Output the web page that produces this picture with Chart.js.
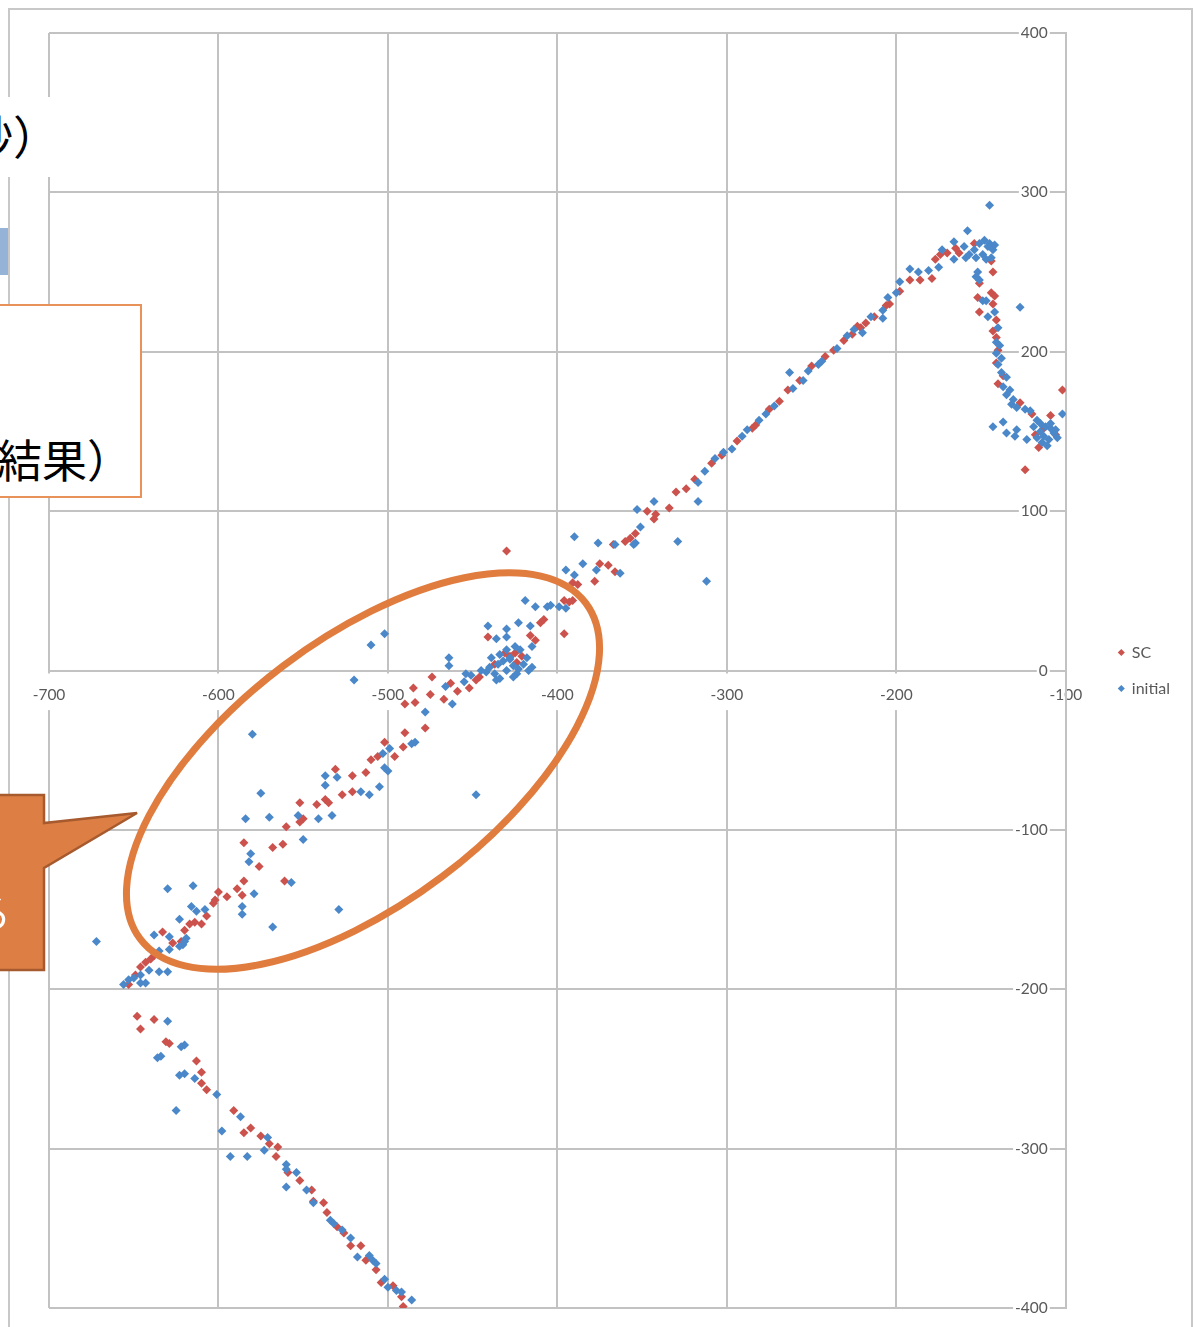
<!DOCTYPE html>
<html>
<head>
<meta charset="utf-8">
<script src="https://cdn.jsdelivr.net/npm/chart.js@4/dist/chart.umd.min.js"></script>
<style>
  html, body { margin: 0; padding: 0; background: #ffffff; }
  #wrap { position: relative; width: 1195px; height: 1327px; overflow: hidden; background: #ffffff; }
  #frame { position: absolute; left: 8px; top: 8px; width: 1185px; height: 1400px; border: 2px solid #c8c8c8; box-sizing: border-box; }
  #chart { position: absolute; left: 0; top: 0; }
  .box { position: absolute; overflow: hidden; background: #ffffff; font-family: "Noto Sans CJK JP", sans-serif; color: #000; line-height: 1; white-space: nowrap; }
  .box span { position: absolute; }
  #shapes { position: absolute; left: 0; top: 0; pointer-events: none; }
</style>
</head>
<body>
<div id="wrap">
  <div id="frame"></div>
  <canvas id="chart" width="1195" height="1327"></canvas>

  <!-- slide text boxes lying over the left edge of the chart -->
  <div class="box" style="left:0; top:97px; width:52px; height:80px;">
    <span style="left:-33px; top:14px; font-size:46px;">秒）</span>
  </div>
  <div style="position:absolute; left:0; top:228px; width:8px; height:47px; background:#95b3d7;"></div>
  <div class="box" style="left:-4px; top:304px; width:146px; height:194px; border:2px solid #e8925a; box-sizing:border-box;">
    <span style="left:-1px; top:130px; font-size:45px;">結果）</span>
  </div>

  <svg id="shapes" width="1195" height="1327" viewBox="0 0 1195 1327">
    <path d="M -6 795 L 44 795 L 44 823 L 137 813 L 44 868 L 44 970 L -6 970 Z"
          fill="#dd7f45" stroke="#a65a2e" stroke-width="2.5" stroke-linejoin="miter"/>
    <text x="-29" y="928" font-family="Noto Sans CJK JP" font-size="40" fill="#ffffff">る</text>
    <ellipse cx="363" cy="771" rx="279" ry="132" transform="rotate(-37 363 771)"
             fill="none" stroke="#e07c3e" stroke-width="7"/>
  </svg>
</div>

<script>
// Tick positions on both axes
const xTicks = [-700, -600, -500, -400, -300, -200, -100];
const yTicks = [400, 300, 200, 100, 0, -100, -200, -300, -400];

// Series "SC": [x, y]
const scPoints = [
  [-648,-217],[-638,-219],[-646,-225],[-631,-233],[-629,-234],[-613,-245],[-610,-252],[-610,-259],
  [-607,-263],[-591,-276],[-585,-290],[-581,-287],[-575,-292],[-570,-297],[-565,-299],[-566,-305],
  [-559,-315],[-552,-320],[-545,-326],[-544,-333],[-538,-334],[-536,-340],[-530,-349],[-526,-353],
  [-522,-361],[-516,-361],[-513,-370],[-507,-376],[-504,-384],[-497,-386],[-492,-393],[-491,-399],
  [-653,-197],[-649,-191],[-646,-186],[-643,-183],[-640,-181],[-638,-179],[-633,-164],[-627,-171],
  [-622,-170],[-620,-163],[-617,-159],[-614,-158],[-610,-159],[-607,-154],[-603,-146],[-602,-144],
  [-600,-139],[-595,-142],[-589,-137],[-586,-141],[-585,-132],[-576,-123],[-561,-132],[-585,-108],
  [-568,-111],[-562,-109],[-560,-98],[-552,-95],[-550,-93],[-552,-83],[-542,-84],[-537,-81],
  [-535,-83],[-527,-78],[-521,-76],[-531,-62],[-521,-66],[-513,-64],[-510,-56],[-506,-54],
  [-496,-54],[-502,-45],[-491,-48],[-490,-39],[-478,-36],[-490,-21],[-484,-20],[-485,-11],
  [-475,-15],[-467,-18],[-474,-4],[-463,-8],[-459,-13],[-452,-11],[-446,-4],[-448,-6],
  [-441,21],[-437,4],[-431,11],[-428,9],[-425,11],[-424,5],[-421,9],[-416,22],[-413,19],
  [-410,30],[-408,32],[-396,23],[-396,44],[-393,43],[-391,44],[-430,75],[-391,55],[-388,54],
  [-378,56],[-375,67],[-370,66],[-366,62],[-367,79],[-360,81],[-357,83],[-354,86],[-343,95],
  [-342,98],[-347,100],[-334,102],
  [-330,112],[-324,114],[-319,120],[-309,130],[-303,135],[-294,144],[-285,152],[-283,154],
  [-275,164],[-269,169],[-264,176],[-257,182],[-250,191],[-242,197],[-237,201],[-231,207],
  [-226,211],[-223,216],
  [-221,215],[-218,218],[-213,222],[-206,229],[-204,230],[-198,238],[-192,245],[-186,245],
  [-179,246],[-177,258],[-174,261],[-170,262],[-165,265],[-163,262],[-154,268],[-144,257],
  [-143,250],[-151,243],[-144,237],[-142,235],[-152,234],[-143,230],[-151,225],[-141,220],
  [-143,213],[-141,209],[-140,201],[-141,193],[-137,185],[-140,180],[-127,168],[-120,161],
  [-109,160],[-102,176],[-116,140],[-124,126],[-113,152],[-106,148],[-118,148]
];

// Series "initial": [x, y]
const initialPoints = [
  [-630,-220],[-634,-242],[-636,-243],[-622,-236],[-620,-235],[-623,-254],[-620,-253],[-614,-256],
  [-625,-276],[-601,-266],[-598,-289],[-587,-280],[-593,-305],[-583,-305],[-571,-293],[-573,-301],
  [-560,-310],[-560,-313],[-554,-315],[-560,-324],[-548,-326],[-544,-334],[-534,-345],[-532,-347],
  [-527,-351],[-522,-356],[-518,-368],[-511,-367],[-509,-370],[-507,-372],[-502,-382],[-500,-387],
  [-495,-389],[-492,-390],[-486,-395],
  [-656,-197],[-653,-194],[-650,-193],[-646,-191],[-646,-196],[-643,-196],[-641,-188],[-635,-189],
  [-630,-189],[-672,-170],
  [-635,-176],[-629,-175],[-623,-173],[-621,-172],[-620,-170],[-619,-168],[-629,-167],[-638,-166],
  [-623,-156],[-616,-148],[-613,-151],[-608,-150],[-630,-137],[-615,-135],[-586,-148],[-586,-153],
  [-568,-161],[-529,-150],[-579,-140],[-557,-133],[-581,-115],[-582,-120],[-550,-106],[-584,-93],
  [-570,-92],[-553,-91],[-541,-93],[-533,-91],[-575,-77],[-516,-76],[-511,-78],[-505,-73],
  [-537,-66],[-530,-67],[-537,-72],[-502,-61],[-500,-63],[-499,-49],[-503,-52],[-484,-45],
  [-486,-46],[-580,-40],[-478,-26],[-462,-21],[-448,-78],[-520,-6],[-510,16],[-502,23],
  [-466,-10],[-455,-7],[-454,-2],[-451,-3],[-464,8],[-464,3],[-445,0],[-442,-1],[-440,2],
  [-437,-2],[-436,-6],[-434,-5],[-435,4],[-432,6],[-430,0],[-428,7],[-426,3],[-426,-4],
  [-424,-2],[-423,1],[-420,4],[-418,8],[-417,0],[-415,2],[-422,13],[-430,13],[-439,8],
  [-434,10],[-428,8],[-425,15],[-415,15],[-436,20],[-430,21],[-441,28],[-430,26],[-423,30],
  [-416,28],[-419,44],[-413,40],[-406,40],[-404,41],[-399,40],[-395,39],[-395,63],[-390,60],
  [-385,67],[-377,63],[-363,61],[-390,84],[-376,80],[-366,79],[-355,79],[-354,80],[-351,90],
  [-353,101],[-343,106],[-317,106],[-329,81],[-312,56],
  [-317,118],[-313,125],[-307,133],[-302,137],[-297,139],[-291,147],[-288,151],[-281,157],
  [-277,161],[-272,166],[-263,187],[-261,177],[-255,182],[-252,188],[-246,192],[-244,194],
  [-235,202],[-229,210],[-225,214],
  [-220,212],[-215,222],[-208,221],[-208,226],[-205,234],[-200,237],[-198,244],[-192,252],
  [-187,250],[-181,251],[-175,253],[-173,264],[-166,269],[-166,258],[-158,276],[-145,292],
  [-160,266],[-157,261],[-154,264],[-151,268],[-148,270],[-146,266],[-143,264],[-149,261],
  [-144,259],[-153,259],[-159,259],[-147,258],[-145,268],[-142,267],[-152,250],[-153,247],
  [-151,245],[-149,232],[-147,232],[-142,225],[-146,222],[-127,228],[-140,215],[-141,206],
  [-139,204],[-141,199],[-138,196],[-140,192],[-138,187],[-135,184],[-137,178],[-133,176],
  [-135,173],[-131,170],[-132,167],[-129,165],[-124,164],[-121,163],[-102,161],[-143,153],
  [-137,156],[-135,149],[-130,147],[-129,151],[-123,145],[-117,157],[-115,155],[-112,153],
  [-109,152],[-106,151],[-115,150],[-113,147],[-110,145],[-107,149],[-114,143],[-111,141],
  [-117,146],[-119,153],[-109,155],[-105,146]
];

const RED = '#cc524d';
const BLUE = '#4b88ca';
const GRID = '#c2c2c2';
const TEXT = '#595959';

Chart.defaults.font.family = "Lato, 'Liberation Sans', sans-serif";

const toXY = pts => pts.map(([x, y]) => ({ x, y }));
const useTicks = list => scale => { scale.ticks = list.map(v => ({ value: v })); };

new Chart(document.getElementById('chart'), {
  type: 'scatter',
  data: {
    datasets: [
      { label: 'SC', data: toXY(scPoints), order: 2,
        pointStyle: 'rectRot', pointRadius: 4.5, pointHoverRadius: 4.5,
        backgroundColor: RED, borderColor: RED, borderWidth: 0 },
      { label: 'initial', data: toXY(initialPoints), order: 1,
        pointStyle: 'rectRot', pointRadius: 4.5, pointHoverRadius: 4.5,
        backgroundColor: BLUE, borderColor: BLUE, borderWidth: 0 }
    ]
  },
  options: {
    responsive: false,
    animation: false,
    devicePixelRatio: 1,
    layout: { padding: { left: 49, top: 33, bottom: 19, right: 15 } },
    scales: {
      x: {
        type: 'linear',
        min: xTicks[0], max: xTicks[xTicks.length - 1],
        position: { y: 0 },
        afterBuildTicks: useTicks(xTicks),
        grid: { color: GRID, lineWidth: 2, drawTicks: false },
        border: { display: true, color: GRID, width: 2 },
        ticks: {
          color: TEXT, font: { size: 15.5 }, padding: 15,
          showLabelBackdrop: true, backdropColor: '#ffffff',
          backdropPadding: { top: 12, bottom: 6, left: 2, right: 2 }
        }
      },
      y: {
        type: 'linear',
        min: yTicks[yTicks.length - 1], max: yTicks[0],
        position: 'right',
        afterBuildTicks: useTicks(yTicks),
        afterFit: scale => { scale.width = 33; },
        grid: { color: GRID, lineWidth: 2, drawTicks: false },
        border: { display: true, color: GRID, width: 2 },
        ticks: {
          color: TEXT, font: { size: 15.5 }, mirror: true, padding: -18,
          showLabelBackdrop: true, backdropColor: '#ffffff',
          backdropPadding: { top: 0, bottom: 0, left: 2, right: 2 }
        }
      }
    },
    plugins: {
      tooltip: { enabled: false },
      legend: {
        position: 'right',
        align: 'center',
        labels: {
          usePointStyle: true, boxWidth: 5, boxHeight: 5, padding: 20,
          color: TEXT, font: { size: 16 },
          sort: (a, b) => a.datasetIndex - b.datasetIndex
        }
      }
    }
  }
});
</script>
</body>
</html>
